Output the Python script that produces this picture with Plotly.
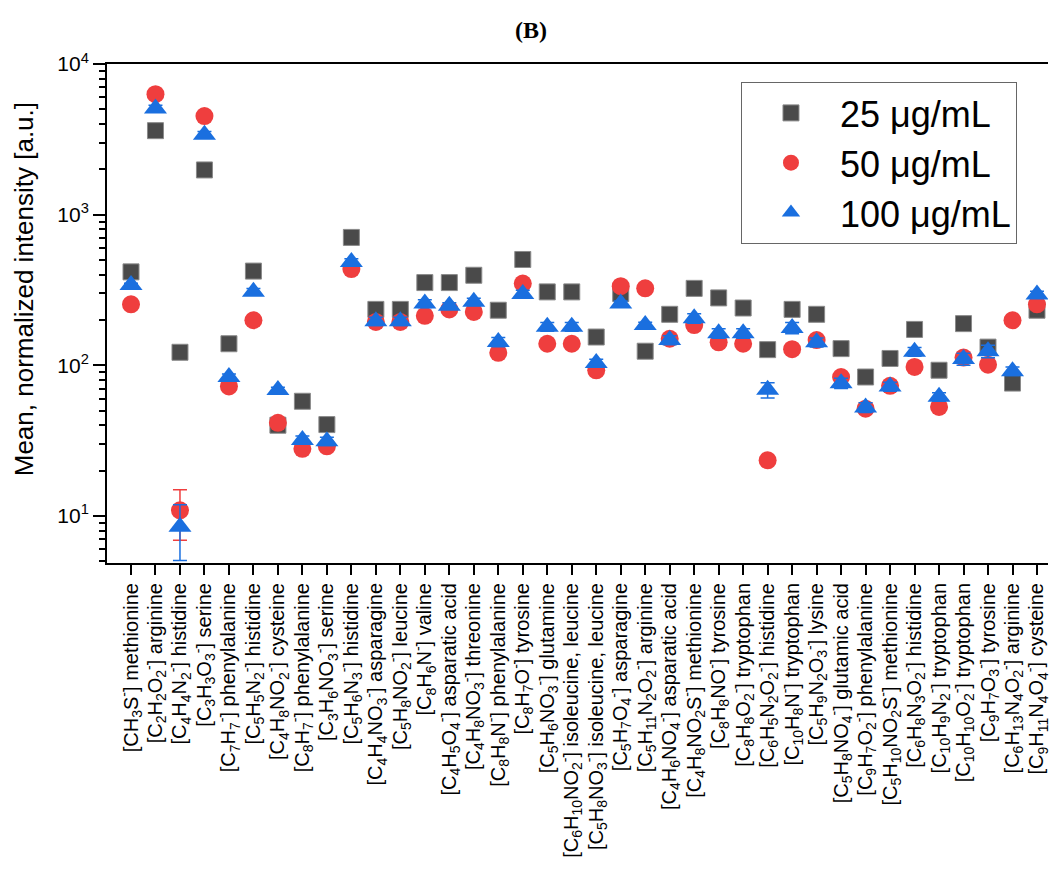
import plotly.graph_objects as go

categories = [
    "[CH<sub>3</sub>S<sup>-</sup>] methionine",
    "[C<sub>2</sub>H<sub>2</sub>O<sub>2</sub><sup>-</sup>] arginine",
    "[C<sub>4</sub>H<sub>4</sub>N<sub>2</sub><sup>-</sup>] histidine",
    "[C<sub>3</sub>H<sub>3</sub>O<sub>3</sub><sup>-</sup>] serine",
    "[C<sub>7</sub>H<sub>7</sub><sup>-</sup>] phenylalanine",
    "[C<sub>5</sub>H<sub>5</sub>N<sub>2</sub><sup>-</sup>] histidine",
    "[C<sub>4</sub>H<sub>8</sub>NO<sub>2</sub><sup>-</sup>] cysteine",
    "[C<sub>8</sub>H<sub>7</sub><sup>-</sup>] phenylalanine",
    "[C<sub>3</sub>H<sub>6</sub>NO<sub>3</sub><sup>-</sup>] serine",
    "[C<sub>5</sub>H<sub>6</sub>N<sub>3</sub><sup>-</sup>] histidine",
    "[C<sub>4</sub>H<sub>4</sub>NO<sub>3</sub><sup>-</sup>] asparagine",
    "[C<sub>5</sub>H<sub>8</sub>NO<sub>2</sub><sup>-</sup>] leucine",
    "[C<sub>8</sub>H<sub>6</sub>N<sup>-</sup>] valine",
    "[C<sub>4</sub>H<sub>5</sub>O<sub>4</sub><sup>-</sup>] asparatic acid",
    "[C<sub>4</sub>H<sub>8</sub>NO<sub>3</sub><sup>-</sup>] threonine",
    "[C<sub>8</sub>H<sub>8</sub>N<sup>-</sup>] phenylalanine",
    "[C<sub>8</sub>H<sub>7</sub>O<sup>-</sup>] tyrosine",
    "[C<sub>5</sub>H<sub>6</sub>NO<sub>3</sub><sup>-</sup>] glutamine",
    "[C<sub>6</sub>H<sub>10</sub>NO<sub>2</sub><sup>-</sup>] isoleucine, leucine",
    "[C<sub>5</sub>H<sub>8</sub>NO<sub>3</sub><sup>-</sup>] isoleucine, leucine",
    "[C<sub>5</sub>H<sub>7</sub>O<sub>4</sub><sup>-</sup>] asparagine",
    "[C<sub>5</sub>H<sub>11</sub>N<sub>2</sub>O<sub>2</sub><sup>-</sup>] arginine",
    "[C<sub>4</sub>H<sub>6</sub>NO<sub>4</sub><sup>-</sup>] asparatic acid",
    "[C<sub>4</sub>H<sub>8</sub>NO<sub>2</sub>S<sup>-</sup>] methionine",
    "[C<sub>8</sub>H<sub>8</sub>NO<sup>-</sup>] tyrosine",
    "[C<sub>8</sub>H<sub>8</sub>O<sub>2</sub><sup>-</sup>] tryptophan",
    "[C<sub>6</sub>H<sub>5</sub>N<sub>2</sub>O<sub>2</sub><sup>-</sup>] histidine",
    "[C<sub>10</sub>H<sub>8</sub>N<sup>-</sup>] tryptophan",
    "[C<sub>5</sub>H<sub>9</sub>N<sub>2</sub>O<sub>3</sub><sup>-</sup>] lysine",
    "[C<sub>5</sub>H<sub>8</sub>NO<sub>4</sub><sup>-</sup>] glutamic acid",
    "[C<sub>9</sub>H<sub>7</sub>O<sub>2</sub><sup>-</sup>] phenylalanine",
    "[C<sub>5</sub>H<sub>10</sub>NO<sub>2</sub>S<sup>-</sup>] methionine",
    "[C<sub>6</sub>H<sub>8</sub>N<sub>3</sub>O<sub>2</sub><sup>-</sup>] histidine",
    "[C<sub>10</sub>H<sub>9</sub>N<sub>2</sub><sup>-</sup>] tryptophan",
    "[C<sub>10</sub>H<sub>10</sub>O<sub>2</sub><sup>-</sup>] tryptophan",
    "[C<sub>9</sub>H<sub>7</sub>O<sub>3</sub><sup>-</sup>] tyrosine",
    "[C<sub>6</sub>H<sub>13</sub>N<sub>4</sub>O<sub>2</sub><sup>-</sup>] arginine",
    "[C<sub>9</sub>H<sub>11</sub>N<sub>4</sub>O<sub>4</sub><sup>-</sup>] cysteine",
]

vals_25 = [417, 3610, 122, 1980, 139, 422, 40, 57.7, 40.4, 706, 235, 235, 354,
           354, 396, 232, 504, 307, 307, 154, 299, 124, 218, 324, 280, 240, 127,
           235, 218, 129, 83.6, 111, 173, 92.7, 189, 132, 76.2, 232]
vals_50 = [254, 6300, 10.9, 4510, 72.4, 199, 41.5, 27.9, 29.0, 435, 194, 194, 213,
           235, 226, 121, 349, 139, 139, 92.6, 335, 324, 150, 185, 142, 139, 23.4,
           128, 147, 83.6, 51.5, 73, 97.5, 52.9, 112.5, 101, 199, 254]
vals_100 = [341, 5070, 8.46, 3390, 83.5, 308, 68.6, 31.9, 31.3, 485, 196, 196, 257,
            248, 264, 143, 297, 180, 180, 103.5, 257, 185, 147, 205, 163, 163, 68.7,
            177, 142, 76, 52.5, 72.3, 123, 61.8, 110, 124, 91.4, 295]

err_50 = [8, 300, 4.0, 200, 3, 6, 2, 1.2, 1.0, 20, 8, 8, 8, 10, 12, 5, 15, 5, 5, 4,
          12, 8, 10, 8, 8, 6, 1, 6, 8, 5, 3, 4, 4, 3, 6, 5, 6, 15]
err_100 = [10, 250, 3.4, 180, 4, 15, 3, 2, 2, 25, 12, 12, 15, 12, 15, 10, 18, 12, 12,
           6, 10, 8, 10, 15, 12, 12, 8, 15, 10, 6, 4, 5, 8, 4, 10, 12, 6, 15]

series_names = ["25 μg/mL", "50 μg/mL", "100 μg/mL"]

FONT = "Liberation Sans, Arial, sans-serif"
GRAY = "#4a4a4a"
RED = "#ef3e3e"
BLUE = "#1a6fdf"

W, H = 1051, 895
PL, PT, PB = 107, 64, 563          # plot area edges in page pixels
PW = W - PL
PH = PB - PT


def px_x(p):
    return (p - PL) / PW


def px_y(p):
    return (PB - p) / PH


fig = go.Figure()
fig.add_trace(go.Scatter(
    x=categories, y=vals_25, mode="markers", name=series_names[0],
    marker=dict(symbol="square", size=16, color=GRAY, line=dict(width=1, color="#8a8a8a")),
))
fig.add_trace(go.Scatter(
    x=categories, y=vals_50, mode="markers", name=series_names[1],
    marker=dict(symbol="circle", size=18, color=RED, line=dict(width=0)),
    error_y=dict(type="data", array=err_50, color=RED, thickness=1.5, width=7),
))
fig.add_trace(go.Scatter(
    x=categories, y=vals_100, mode="markers", name=series_names[2],
    marker=dict(symbol="triangle-up", size=20, color=BLUE, line=dict(width=0)),
    error_y=dict(type="data", array=err_100, color=BLUE, thickness=1.5, width=7),
))

minor_vals = [m * 10 ** e for e in range(0, 4) for m in range(2, 10)]

fig.update_layout(
    width=W, height=H,
    margin=dict(l=PL, r=0, t=PT, b=H - PB, pad=0),
    paper_bgcolor="white", plot_bgcolor="white",
    font=dict(family=FONT, color="black"),
    showlegend=True,
    legend=dict(
        x=px_x(743), y=px_y(82), xanchor="left", yanchor="top",
        font=dict(size=36, family=FONT, color="black"),
        bordercolor="#666666", borderwidth=1, bgcolor="white",
        itemwidth=88,
    ),
    xaxis=dict(
        type="category", range=[-0.98, 37.45],
        tickmode="array", tickvals=categories, ticktext=categories,
        showline=True, linecolor="black", linewidth=2, mirror=True,
        ticks="outside", ticklen=10, tickwidth=2, tickcolor="black",
        tickangle=-90, tickfont=dict(size=20, family=FONT, color="black"),
        showgrid=False, zeroline=False,
    ),
    yaxis=dict(
        type="log", range=[0.6875, 4],
        showline=True, linecolor="black", linewidth=2, mirror=False,
        ticks="outside", ticklen=12, tickwidth=2, tickcolor="black",
        tickvals=[10, 100, 1000, 10000],
        ticktext=["10<sup>1</sup>", "10<sup>2</sup>", "10<sup>3</sup>", "10<sup>4</sup>"],
        tickfont=dict(size=21, family=FONT, color="black"),
        minor=dict(ticks="outside", ticklen=6, tickwidth=2, tickcolor="black",
                   tickvals=minor_vals, showgrid=False),
        showgrid=False, zeroline=False,
    ),
    annotations=[
        dict(text="Mean, normalized intensity [a.u.]", textangle=-90,
             xref="paper", yref="paper", x=px_x(24), y=px_y(289),
             xanchor="center", yanchor="middle", showarrow=False,
             font=dict(size=26, family=FONT, color="black")),
        dict(text="<b>(B)</b>", xref="paper", yref="paper",
             x=px_x(532), y=px_y(30),
             xanchor="center", yanchor="middle", showarrow=False,
             font=dict(size=24, family="Liberation Serif, Times New Roman, serif", color="black")),
    ],
)

fig.write_html(
    "out.html",
    config={"displayModeBar": False},
    post_script="document.body.style.margin='0';document.body.style.overflow='hidden';",
)
